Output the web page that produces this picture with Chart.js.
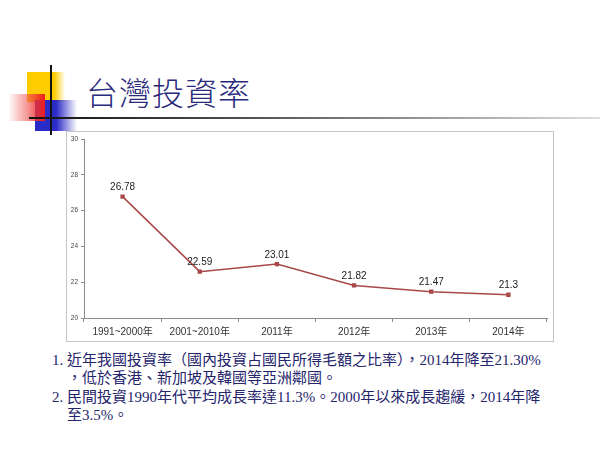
<!DOCTYPE html>
<html>
<head>
<meta charset="utf-8">
<script src="https://cdn.jsdelivr.net/npm/chart.js@4.4.0/dist/chart.umd.min.js"></script>
<style>
  body { margin: 0; width: 600px; height: 450px; background: #fff; position: relative; overflow: hidden; }
  .abs { position: absolute; }
  #title { left: 86px; top: 68px; font-family: 'Noto Sans CJK TC', sans-serif; font-weight: 300; font-size: 32px; color: #2a2a7c; white-space: nowrap; letter-spacing: 1px; }
  .txt { font-family: 'Liberation Serif', 'Noto Sans CJK TC', serif; font-size: 15px; line-height: 18px; color: #25256c; white-space: nowrap; }
  #box { left: 66px; top: 131px; width: 486px; height: 209px; border: 1px solid #c4c4c4; }
</style>
</head>
<body>
<!-- slide decoration -->
<div class="abs" style="left:27px;top:72px;width:38px;height:30px;background:linear-gradient(to right,#ffcc00 0%,#ffcc00 72%,rgba(255,230,150,0) 100%);"></div>
<div class="abs" style="left:35px;top:100px;width:42px;height:31px;background:linear-gradient(to right,#2b2bc8 0%,#2b2bc8 50%,rgba(80,80,220,0) 100%);"></div>
<div class="abs" style="left:8px;top:94px;width:37px;height:27px;background:linear-gradient(to left,#ee1c1c 0%,rgba(240,90,90,0.6) 50%,rgba(255,255,255,0) 100%);"></div>
<div class="abs" style="left:50px;top:65px;width:2px;height:70px;background:#111;"></div>
<div class="abs" style="left:29px;top:117px;width:571px;height:2px;background:linear-gradient(to right,#111 0%,#555 40%,#ddd 100%);"></div>

<div id="title" class="abs">台灣投資率</div>

<div id="box" class="abs"><canvas id="grafico1" width="486" height="209"></canvas></div>

<div class="abs txt" style="left:52px;top:351px;">1.</div>
<div class="abs txt" style="left:67px;top:351px;">近年我國投資率（國內投資占國民所得毛額之比率），2014年降至21.30%</div>
<div class="abs txt" style="left:67px;top:369px;">，低於香港、新加坡及韓國等亞洲鄰國。</div>
<div class="abs txt" style="left:52px;top:388px;">2.</div>
<div class="abs txt" style="left:67px;top:388px;">民間投資1990年代平均成長率達11.3%。2000年以來成長趨緩，2014年降</div>
<div class="abs txt" style="left:67px;top:406px;">至3.5%。</div>

<script>
var periodos = ['1991~2000年', '2001~2010年', '2011年', '2012年', '2013年', '2014年'];
var tasa = [26.78, 22.59, 23.01, 21.82, 21.47, 21.3];
var yMin = 20, yMax = 30, yPaso = 2;

var etiquetas = {
  id: 'etiquetas',
  afterDatasetsDraw: function(chart) {
    var ctx = chart.ctx;
    var meta = chart.getDatasetMeta(0);
    ctx.save();
    ctx.font = '10px "Liberation Sans", Arial, sans-serif';
    ctx.fillStyle = '#222';
    ctx.textAlign = 'center';
    ctx.textBaseline = 'middle';
    meta.data.forEach(function(p, i) {
      ctx.fillText(String(tasa[i]), p.x, p.y - 9);
    });
    ctx.restore();
  }
};

var ctx = document.getElementById('grafico1');
var line = new Chart(ctx, {
  type: 'line',
  data: {
    labels: periodos,
    datasets: [{
      data: tasa,
      borderColor: '#a94848',
      backgroundColor: '#a94848',
      borderWidth: 1.5,
      pointStyle: 'rect',
      pointRadius: 2,
      pointBackgroundColor: '#a94848',
      fill: false,
      tension: 0
    }]
  },
  options: {
    responsive: false,
    animation: false,
    layout: { padding: { top: 7, right: 6, left: 0, bottom: 0 } },
    plugins: { legend: { display: false }, tooltip: { enabled: false } },
    scales: {
      x: {
        offset: true,
        grid: { offset: true, drawOnChartArea: false, tickLength: 4, color: '#8c8c8c' },
        border: { color: '#8c8c8c' },
        ticks: { color: '#333', padding: 4, maxRotation: 0, font: { size: 10, family: '"Liberation Sans", "Noto Sans CJK TC", sans-serif' } },
        afterFit: function(s) { s.height = 23; }
      },
      y: {
        min: yMin, max: yMax,
        grid: { drawOnChartArea: false, tickLength: 3, color: '#8c8c8c' },
        border: { color: '#8c8c8c' },
        ticks: { stepSize: yPaso, color: '#444', padding: 3, font: { size: 6.5, family: '"Liberation Sans", sans-serif' } },
        afterFit: function(s) { s.width = 17; }
      }
    }
  },
  plugins: [etiquetas]
});
</script>
</body>
</html>
